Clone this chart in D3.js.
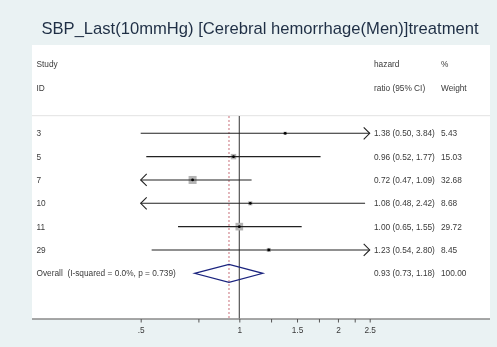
<!DOCTYPE html>
<html>
<head>
<meta charset="utf-8">
<script src="https://cdn.jsdelivr.net/npm/d3@7"></script>
<style>
  html, body { margin: 0; padding: 0; background: #eaf2f3; }
  svg { display: block; font-family: "Liberation Sans", Arial, sans-serif; will-change: transform; }
  text { white-space: pre; }
</style>
</head>
<body>
<svg id="chart" width="497" height="347"></svg>
<script>
// Study-level estimates (hazard ratio with 95% CI) and percentage weights
const studies = ["3", "5", "7", "10", "11", "29"];
const hr      = [1.38, 0.96, 0.72, 1.08, 1.00, 1.23];
const lower   = [0.50, 0.52, 0.47, 0.48, 0.65, 0.54];
const upper   = [3.84, 1.77, 1.09, 2.42, 1.55, 2.80];
const weights = [5.43, 15.03, 32.68, 8.68, 29.72, 8.45];

// Pooled estimate
const overallLabel = "Overall  (I-squared = 0.0%, p = 0.739)";
const overall = { hr: 0.93, lower: 0.73, upper: 1.18, weight: 100.00 };

// Axis ticks
const majorTicks = [0.5, 1, 1.5, 2, 2.5];
const majorTickLabels = [".5", "1", "1.5", "2", "2.5"];
const minorTicks = [0.75, 1.25, 1.75, 2.25];

const titleText = "SBP_Last(10mmHg) [Cerebral hemorrhage(Men)]treatment";

const svg = d3.select("#chart");
const W = 497, H = 347;

const plot = { left: 32, right: 490, top: 45, bottom: 319 };

svg.append("rect").attr("width", W).attr("height", H).attr("fill", "#eaf2f3");
svg.append("rect")
  .attr("x", plot.left).attr("y", plot.top)
  .attr("width", plot.right - plot.left).attr("height", plot.bottom - plot.top)
  .attr("fill", "#ffffff");

svg.append("text")
  .attr("x", 260).attr("y", 33.5)
  .attr("text-anchor", "middle")
  .attr("font-size", 16.6)
  .attr("fill", "#1f2f45")
  .text(titleText);

// Log scale for hazard ratio; display range clipped at .5 and 2.5
const x = d3.scaleLog().domain([0.5, 2.5]).range([140.7, 369.7]);
const clipLo = 0.5, clipHi = 2.5;

const rowY = d3.scalePoint()
  .domain([...studies, "Overall"])
  .range([133.3, 273.3]);

const txtColor = "#3a3a3a";
const fs = 8.3;
const dy = 3;
const colID = 36.5, colHR = 374, colW = 441;

// Header
const header = svg.append("g").attr("font-size", fs).attr("fill", txtColor);
header.append("text").attr("x", colID).attr("y", 64.3 + dy).text("Study");
header.append("text").attr("x", colID).attr("y", 87.7 + dy).text("ID");
header.append("text").attr("x", colHR).attr("y", 64.3 + dy).text("hazard");
header.append("text").attr("x", colHR).attr("y", 87.7 + dy).text("ratio (95% CI)");
header.append("text").attr("x", colW).attr("y", 64.3 + dy).text("%");
header.append("text").attr("x", colW).attr("y", 87.7 + dy).text("Weight");

// Separator under header
svg.append("line")
  .attr("x1", plot.left).attr("x2", plot.right)
  .attr("y1", 115.7).attr("y2", 115.7)
  .attr("stroke", "#e2e2e2").attr("stroke-width", 1);

// Null line at HR = 1
svg.append("line")
  .attr("x1", x(1)).attr("x2", x(1))
  .attr("y1", 116).attr("y2", plot.bottom)
  .attr("stroke", "#555555").attr("stroke-width", 1.2);

// Pooled estimate reference line
svg.append("line")
  .attr("x1", x(overall.hr)).attr("x2", x(overall.hr))
  .attr("y1", 116).attr("y2", plot.bottom)
  .attr("stroke", "#c8707a").attr("stroke-width", 1)
  .attr("stroke-dasharray", "2,2");

// Study rows
const fmt = d3.format(".2f");
const boxScale = 1.4;
studies.forEach((s, i) => {
  const y = rowY(s);
  const lo = Math.max(lower[i], clipLo), hi = Math.min(upper[i], clipHi);
  const g = svg.append("g");
  // weight box
  const side = boxScale * Math.sqrt(weights[i]);
  g.append("rect")
    .attr("x", x(hr[i]) - side / 2).attr("y", y - side / 2)
    .attr("width", side).attr("height", side)
    .attr("fill", "#b4b4b4");
  // CI line
  g.append("line")
    .attr("x1", x(lo)).attr("x2", x(hi))
    .attr("y1", y).attr("y2", y)
    .attr("stroke", "#222222").attr("stroke-width", 1.1);
  // arrows for clipped intervals
  if (lower[i] < clipLo) {
    const ax = x(clipLo);
    g.append("path")
      .attr("d", `M${ax + 6},${y - 6} L${ax},${y} L${ax + 6},${y + 6}`)
      .attr("fill", "none").attr("stroke", "#222222").attr("stroke-width", 1.1);
  }
  if (upper[i] > clipHi) {
    const ax = x(clipHi);
    g.append("path")
      .attr("d", `M${ax - 6},${y - 6} L${ax},${y} L${ax - 6},${y + 6}`)
      .attr("fill", "none").attr("stroke", "#222222").attr("stroke-width", 1.1);
  }
  // point estimate
  g.append("circle")
    .attr("cx", x(hr[i])).attr("cy", y).attr("r", 1.4)
    .attr("fill", "#000000");
  // labels
  const t = g.append("g").attr("font-size", fs).attr("fill", txtColor);
  t.append("text").attr("x", colID).attr("y", y + dy).text(s);
  t.append("text").attr("x", colHR).attr("y", y + dy)
    .text(`${fmt(hr[i])} (${fmt(lower[i])}, ${fmt(upper[i])})`);
  t.append("text").attr("x", colW).attr("y", y + dy).text(fmt(weights[i]));
});

// Overall diamond
{
  const y = rowY("Overall");
  const h = 9;
  svg.append("path")
    .attr("d", `M${x(overall.lower)},${y} L${x(overall.hr)},${y - h} L${x(overall.upper)},${y} L${x(overall.hr)},${y + h} Z`)
    .attr("fill", "none").attr("stroke", "#1a237e").attr("stroke-width", 1.2);
  const t = svg.append("g").attr("font-size", fs).attr("fill", txtColor);
  t.append("text").attr("x", colID).attr("y", y + dy).text(overallLabel);
  t.append("text").attr("x", colHR).attr("y", y + dy)
    .text(`${fmt(overall.hr)} (${fmt(overall.lower)}, ${fmt(overall.upper)})`);
  t.append("text").attr("x", colW).attr("y", y + dy).text(fmt(overall.weight));
}

// Bottom axis
const axisG = svg.append("g").attr("transform", `translate(0,${plot.bottom})`);
axisG.append("line")
  .attr("x1", plot.left).attr("x2", plot.right)
  .attr("stroke", "#8a8a8a").attr("stroke-width", 1.5);
const axis = d3.axisBottom(x)
  .tickValues(majorTicks)
  .tickFormat((d, i) => majorTickLabels[i])
  .tickSize(3.5).tickPadding(5);
const ag = axisG.append("g").call(axis);
ag.select(".domain").remove();
ag.selectAll(".tick line").attr("stroke", "#555555");
ag.selectAll(".tick text").attr("font-size", fs).attr("fill", txtColor)
  .attr("font-family", "\"Liberation Sans\", Arial, sans-serif");
const minor = d3.axisBottom(x).tickValues(minorTicks).tickFormat("").tickSize(3.5);
const mg = axisG.append("g").call(minor);
mg.select(".domain").remove();
mg.selectAll(".tick line").attr("stroke", "#555555");
</script>
</body>
</html>
